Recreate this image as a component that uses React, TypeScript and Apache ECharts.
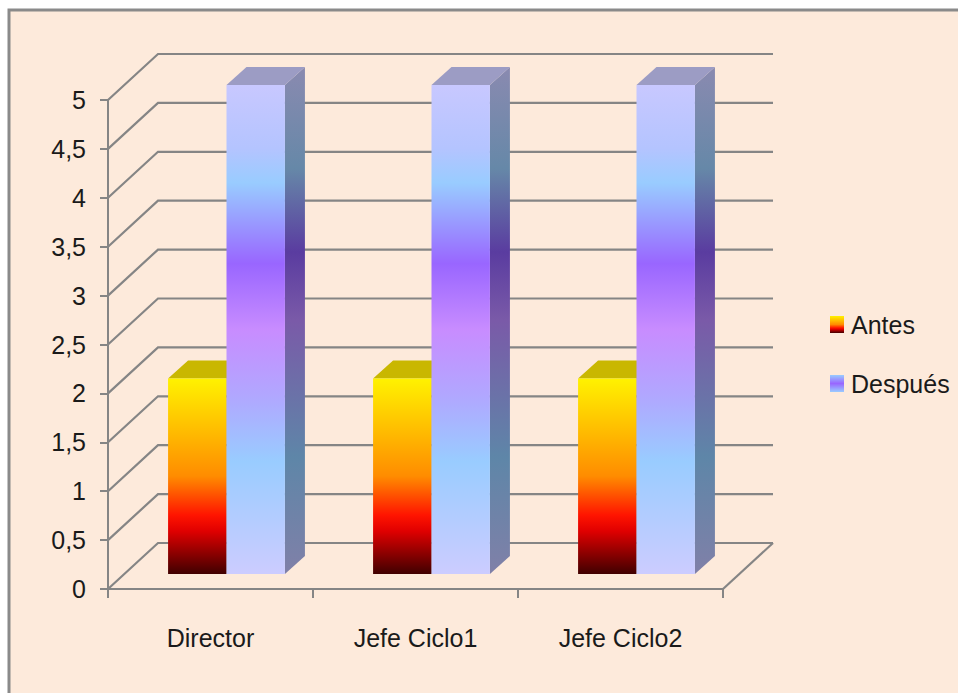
import React, { useEffect, useRef } from "react";
import * as echarts from "echarts";

const categories = ["Director", "Jefe Ciclo1", "Jefe Ciclo2"];
const antesValues = [2, 2, 2];
const despuesValues = [5, 5, 5];
const seriesNames = ["Antes", "Después"];
const wallTicks = [0, 0.5, 1, 1.5, 2, 2.5, 3, 3.5, 4, 4.5, 5];

const FONT = "'Liberation Sans', Arial, sans-serif";
const GRID_COLOR = "#858585";
const WALL_DX = 50;
const WALL_DY = -46;
const FRONT_DX = 16;
const FRONT_DY = -15;
const DEPTH_DX = 20;
const DEPTH_DY = -18;

const vgrad = (stops: [number, string][]) =>
  new echarts.graphic.LinearGradient(
    0,
    0,
    0,
    1,
    stops.map(([offset, color]) => ({ offset, color }))
  );

const antesFront = () =>
  vgrad([
    [0, "#FFF200"],
    [0.25, "#FFC000"],
    [0.5, "#FF8C00"],
    [0.7, "#FF1400"],
    [0.78, "#E00000"],
    [1, "#400000"],
  ]);
const antesSide = () =>
  vgrad([
    [0, "#B8A000"],
    [0.5, "#B86000"],
    [1, "#300000"],
  ]);
const despFront = () =>
  vgrad([
    [0, "#C8C8FF"],
    [0.13, "#B4C4FF"],
    [0.2, "#99CCFF"],
    [0.365, "#9966FF"],
    [0.5, "#C88CFF"],
    [0.64, "#B0A8FF"],
    [0.77, "#99CCFF"],
    [1, "#CCCCFF"],
  ]);
const despSide = () =>
  vgrad([
    [0, "#8A8AB0"],
    [0.2, "#6688A8"],
    [0.365, "#5A3CA0"],
    [0.5, "#7A5AA8"],
    [0.77, "#5E86A8"],
    [1, "#8080A8"],
  ]);

const barRender = (seriesIdx: number) => (params: any, api: any) => {
  const idx = api.value(0);
  const val = api.value(1);
  const band = api.size([1, 0])[0];
  const bw = band * 0.285;
  const base = api.coord([idx, 0]);
  const top = api.coord([idx, val]);
  const xL = base[0] - bw + seriesIdx * bw + FRONT_DX;
  const xR = xL + bw;
  const yB = base[1] + FRONT_DY;
  const yT = top[1] + FRONT_DY;
  const front = seriesIdx === 0 ? antesFront() : despFront();
  const side = seriesIdx === 0 ? antesSide() : despSide();
  const topColor = seriesIdx === 0 ? "#C9B700" : "#9C9CC4";
  return {
    type: "group",
    children: [
      {
        type: "polygon",
        shape: {
          points: [
            [xR, yT],
            [xR + DEPTH_DX, yT + DEPTH_DY],
            [xR + DEPTH_DX, yB + DEPTH_DY],
            [xR, yB],
          ],
        },
        style: { fill: side },
      },
      {
        type: "polygon",
        shape: {
          points: [
            [xL, yT],
            [xL + DEPTH_DX, yT + DEPTH_DY],
            [xR + DEPTH_DX, yT + DEPTH_DY],
            [xR, yT],
          ],
        },
        style: { fill: topColor },
      },
      {
        type: "rect",
        shape: { x: xL, y: yT, width: bw, height: yB - yT },
        style: { fill: front },
      },
    ],
  };
};

const wallRender = (params: any, api: any) => {
  const cs = params.coordSys;
  const v = api.value(1);
  const y = api.coord([0, v])[1];
  const L = cs.x;
  const R = cs.x + cs.width;
  const children: any[] = [
    {
      type: "polyline",
      shape: {
        points: [
          [L, y],
          [L + WALL_DX, y + WALL_DY],
          [R + WALL_DX, y + WALL_DY],
        ],
      },
      style: { stroke: GRID_COLOR, lineWidth: 2.2, fill: null },
    },
  ];
  if (v === 0) {
    children.push({
      type: "line",
      shape: { x1: R, y1: y, x2: R + WALL_DX, y2: y + WALL_DY },
      style: { stroke: GRID_COLOR, lineWidth: 2.2 },
    });
  }
  return { type: "group", children };
};

export default function App() {
  const ref = useRef<HTMLDivElement>(null);
  useEffect(() => {
    if (!ref.current) return;
    const chart = echarts.init(ref.current, undefined, { renderer: "svg" });
    chart.setOption({
      animation: false,
      backgroundColor: "#FFFFFF",
      graphic: [
        {
          type: "rect",
          z: -10,
          silent: true,
          shape: { x: 9, y: 10, width: 1000, height: 800 },
          style: { fill: "#FDEADB", stroke: "#8A8A8A", lineWidth: 3 },
        },
      ],
      grid: { left: 108, top: 100, width: 615, height: 489 },
      legend: {
        orient: "vertical",
        left: 830,
        top: 312,
        itemWidth: 14,
        itemHeight: 17,
        itemGap: 34,
        padding: 0,
        icon: "rect",
        textStyle: { fontFamily: FONT, fontSize: 25, color: "#1A1A1A", padding: [0, 0, 0, 2] },
        data: seriesNames,
      },
      xAxis: {
        type: "category",
        data: categories,
        axisLine: { show: true, lineStyle: { color: GRID_COLOR, width: 2 } },
        axisTick: { show: true, length: 9, lineStyle: { color: GRID_COLOR, width: 2 } },
        axisLabel: { margin: 36, fontFamily: FONT, fontSize: 25, color: "#1A1A1A" },
        splitLine: { show: false },
      },
      yAxis: {
        type: "value",
        min: 0,
        max: 5,
        interval: 0.5,
        axisLine: { show: true, lineStyle: { color: GRID_COLOR, width: 2 } },
        axisTick: { show: true, length: 8, lineStyle: { color: GRID_COLOR, width: 2 } },
        axisLabel: {
          margin: 22,
          fontFamily: FONT,
          fontSize: 25,
          color: "#1A1A1A",
          formatter: (v: number) => String(v).replace(".", ","),
        },
        splitLine: { show: false },
      },
      series: [
        {
          type: "custom",
          name: "wall",
          silent: true,
          z: 1,
          renderItem: wallRender,
          data: wallTicks.map((v) => [0, v]),
        },
        {
          type: "custom",
          name: seriesNames[0],
          z: 2,
          renderItem: barRender(0),
          itemStyle: { color: antesFront() },
          data: antesValues.map((v, i) => [i, v]),
        },
        {
          type: "custom",
          name: seriesNames[1],
          z: 3,
          renderItem: barRender(1),
          itemStyle: {
            color: vgrad([
              [0, "#99CCFF"],
              [0.5, "#9966FF"],
              [1, "#99CCFF"],
            ]),
          },
          data: despuesValues.map((v, i) => [i, v]),
        },
      ],
    });
    return () => chart.dispose();
  }, []);
  return (
    <div
      ref={ref}
      style={{ position: "fixed", left: 0, top: 0, width: 958, height: 693 }}
    />
  );
}
